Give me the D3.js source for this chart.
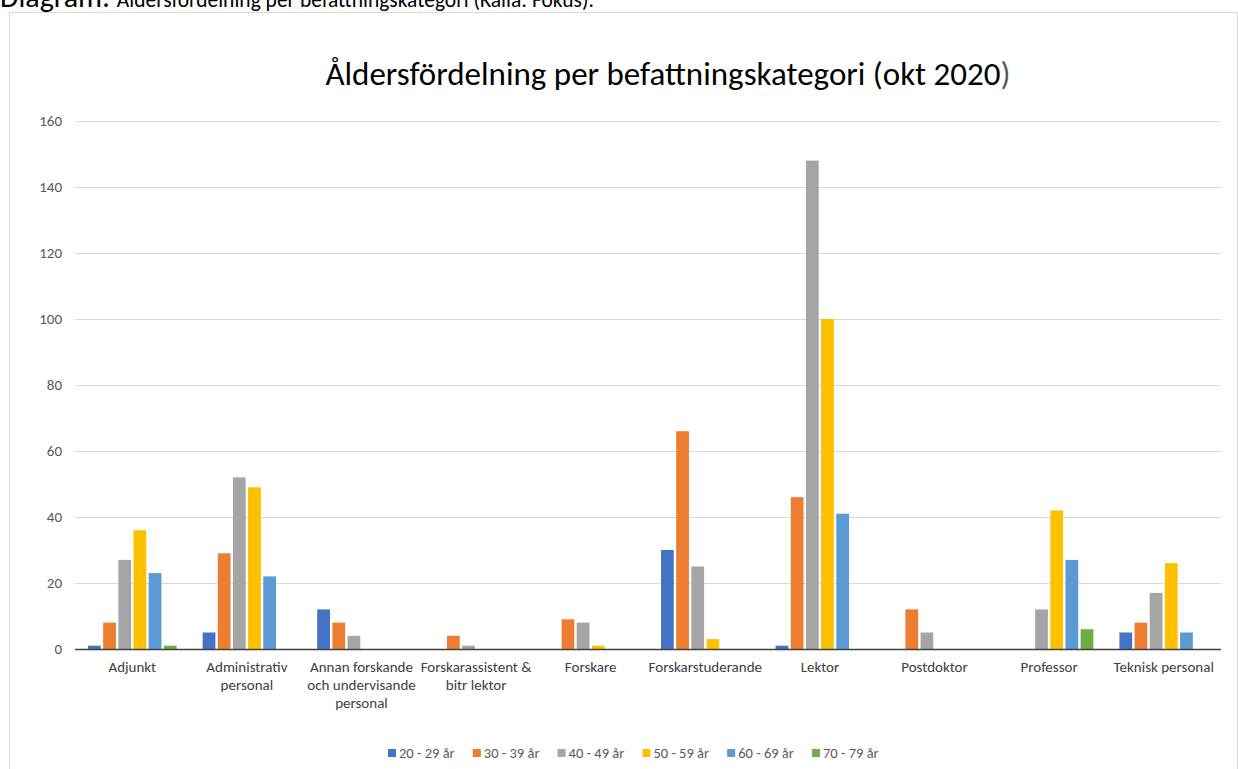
<!DOCTYPE html>
<html>
<head>
<meta charset="utf-8">
<script src="https://cdn.jsdelivr.net/npm/d3@7"></script>
<style>
  body { margin: 0; background: #fff; }
  svg { display: block; font-family: Carlito, Lato, "Open Sans", sans-serif; }
</style>
</head>
<body>
<div id="container"></div>
<script>
const categories = [
  ["Adjunkt"],
  ["Administrativ", "personal"],
  ["Annan forskande", "och undervisande", "personal"],
  ["Forskarassistent &", "bitr lektor"],
  ["Forskare"],
  ["Forskarstuderande"],
  ["Lektor"],
  ["Postdoktor"],
  ["Professor"],
  ["Teknisk personal"],
];
const seriesNames = ["20 - 29 år", "30 - 39 år", "40 - 49 år", "50 - 59 år", "60 - 69 år", "70 - 79 år"];
const seriesColors = ["#4472C4", "#ED7D31", "#A5A5A5", "#FFC000", "#5B9BD5", "#70AD47"];
// values per series, one per category
const age20 = [1, 5, 12, 0, 0, 30, 1, 0, 0, 5];
const age30 = [8, 29, 8, 4, 9, 66, 46, 12, 0, 8];
const age40 = [27, 52, 4, 1, 8, 25, 148, 5, 12, 17];
const age50 = [36, 49, 0, 0, 1, 3, 100, 0, 42, 26];
const age60 = [23, 22, 0, 0, 0, 0, 41, 0, 27, 5];
const age70 = [1, 0, 0, 0, 0, 0, 0, 0, 6, 0];
const seriesValues = [age20, age30, age40, age50, age60, age70];
const yTicks = [0, 20, 40, 60, 80, 100, 120, 140, 160];

main();

function main() {
  const width = 1238;
  const height = 769;
  const margin = { top: 121, right: 17, bottom: 120, left: 75 };
  const innerWidth = width - margin.left - margin.right;
  const innerHeight = height - margin.top - margin.bottom;

  const svg = d3.select("#container").append("svg")
    .attr("width", width).attr("height", height);

  // caption above the chart (cut at the top edge, as in the source)
  const caption = svg.append("text").attr("x", 0).attr("y", 7).attr("fill", "#000");
  caption.append("tspan").attr("font-size", 30).text("Diagram: ");
  caption.append("tspan").attr("font-size", 21.5).text("Åldersfördelning per befattningskategori (Källa: Fokus).");

  // chart frame
  svg.append("rect")
    .attr("x", 9.5).attr("y", 12.5)
    .attr("width", width - 10).attr("height", height)
    .attr("fill", "none").attr("stroke", "#d9d9d9");

  const title = svg.append("text")
    .attr("x", 668).attr("y", 85)
    .attr("text-anchor", "middle")
    .attr("font-size", 33)
    .attr("fill", "#000");
  title.append("tspan").text("Åldersfördelning per befattningskategori (okt 2020");
  title.append("tspan").attr("fill", "#595959").text(")");

  const g = svg.append("g").attr("transform", `translate(${margin.left},${margin.top})`);

  const scaleY = d3.scaleLinear().domain([0, 160]).range([innerHeight, 0]);
  const scaleX = d3.scaleBand().domain(d3.range(categories.length)).range([0, innerWidth]);
  const groupPad = scaleX.bandwidth() * 0.103;
  const scaleS = d3.scaleBand().domain(d3.range(seriesNames.length))
    .range([groupPad, scaleX.bandwidth() - groupPad]);

  // gridlines + y labels
  const axisY = g.append("g").call(
    d3.axisLeft(scaleY).tickValues(yTicks).tickSize(-innerWidth).tickPadding(13)
  );
  axisY.select(".domain").remove();
  axisY.selectAll(".tick line").attr("stroke", "#d9d9d9").attr("stroke-width", 1);
  axisY.selectAll(".tick text").attr("fill", "#595959").attr("font-size", 15)
    .attr("font-family", "Carlito, Lato, 'Open Sans', sans-serif");

  // bars
  const rows = [];
  seriesValues.forEach((vals, s) => vals.forEach((v, c) => rows.push({ s, c, v })));
  g.append("g").selectAll("rect")
    .data(rows.filter((d) => d.v > 0))
    .join("rect")
    .attr("x", (d) => scaleX(d.c) + scaleS(d.s) + 1.2)
    .attr("width", scaleS.bandwidth() - 2.4)
    .attr("y", (d) => scaleY(d.v))
    .attr("height", (d) => innerHeight - scaleY(d.v))
    .attr("fill", (d) => seriesColors[d.s]);

  // baseline
  g.append("line")
    .attr("x1", 0).attr("x2", innerWidth)
    .attr("y1", innerHeight + 0.5).attr("y2", innerHeight + 0.5)
    .attr("stroke", "#404040").attr("stroke-width", 1.3);

  // category labels
  const labels = g.append("g").selectAll("text")
    .data(categories)
    .join("text")
    .attr("x", (d, i) => scaleX(i) + scaleX.bandwidth() / 2)
    .attr("y", innerHeight + 23)
    .attr("text-anchor", "middle")
    .attr("font-size", 15)
    .attr("fill", "#404040");
  labels.selectAll("tspan")
    .data((d) => d)
    .join("tspan")
    .attr("x", function () { return this.parentNode.getAttribute("x"); })
    .attr("dy", (d, i) => (i === 0 ? 0 : 18))
    .text((d) => d);

  // legend
  const legend = svg.append("g").attr("transform", "translate(0,758)");
  let lx = 388;
  seriesNames.forEach((name, i) => {
    const item = legend.append("g").attr("transform", `translate(${lx},0)`);
    item.append("rect").attr("x", 0).attr("y", -9).attr("width", 8).attr("height", 8)
      .attr("fill", seriesColors[i]);
    item.append("text").attr("x", 11).attr("y", 0).attr("font-size", 14.5)
      .attr("fill", "#595959").text(name);
    lx += 84.8;
  });
}
</script>
</body>
</html>
